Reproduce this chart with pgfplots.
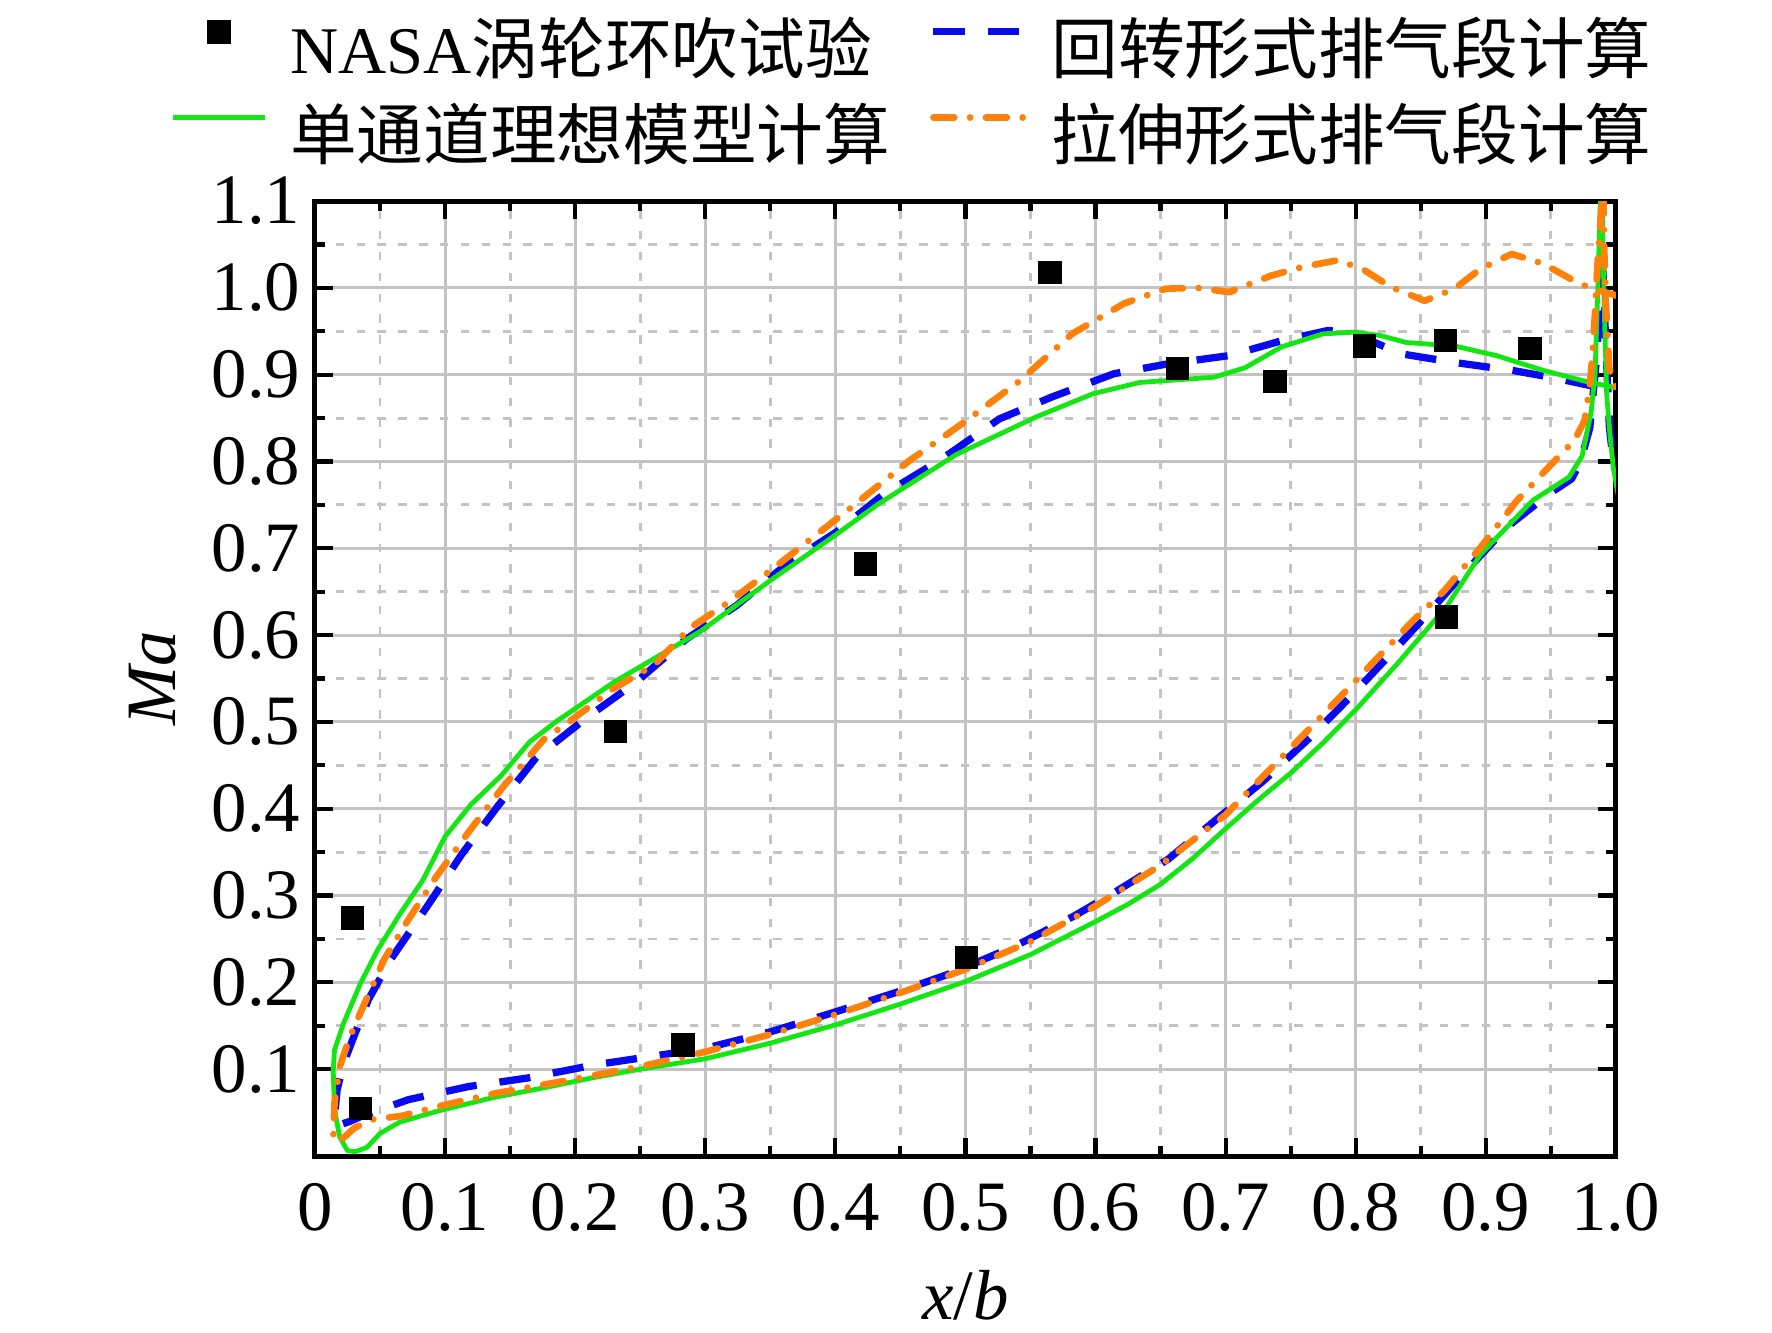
\documentclass[border=0pt]{standalone}
\usepackage{fontspec}
\setmainfont{Liberation Serif}
\newfontfamily\cjk{Noto Sans CJK SC}
\usepackage{pgfplots}
\pgfplotsset{compat=1.18}
\definecolor{cgreen}{RGB}{20,230,20}
\definecolor{cblue}{RGB}{10,10,240}
\definecolor{corange}{RGB}{255,128,10}
\definecolor{cgrid}{RGB}{195,195,195}
\begin{document}
\begin{tikzpicture}
\begin{axis}[
  width=312.2pt, height=229.2pt, scale only axis,
  xmin=0, xmax=1, ymin=0, ymax=1.1,
  xtick={0,0.1,0.2,0.3,0.4,0.5,0.6,0.7,0.8,0.9,1.0},
  xticklabels={0,0.1,0.2,0.3,0.4,0.5,0.6,0.7,0.8,0.9,1.0},
  ytick={0.1,0.2,0.3,0.4,0.5,0.6,0.7,0.8,0.9,1.0,1.1},
  yticklabels={0.1,0.2,0.3,0.4,0.5,0.6,0.7,0.8,0.9,1.0,1.1},
  minor x tick num=1, minor y tick num=1,
  grid=both,
  major grid style={cgrid, line width=0.7pt},
  minor grid style={cgrid, line width=0.7pt, dash pattern=on 2pt off 3pt},
  tick align=inside,
  major tick length=4.3pt, minor tick length=2.4pt,
  every tick/.style={black, line width=1pt},
  axis line style={black, line width=1.2pt},
  tick label style={font=\fontsize{17}{20}\selectfont},
  x tick label style={yshift=-3pt},
  label style={font=\fontsize{17}{20}\selectfont},
  xlabel={\textit{x}/\textit{b}},
  ylabel={\textit{Ma}},
  x label style={at={(axis description cs:0.5,0)}, anchor=center, yshift=-33.4pt},
  y label style={at={(axis description cs:0,0.5)}, anchor=center, yshift=38.9pt},
  legend columns=2,
  legend cell align=left,
  legend style={at={(axis description cs:0,1)}, anchor=north west,
    xshift=-34.8pt, yshift=43.4pt, draw=none, fill=none, inner sep=0pt,
    row sep=4.6pt,
    nodes={inner sep=0pt, text height=12pt, text depth=4pt, font=\fontsize{16}{19}\selectfont},
    /tikz/every odd column/.append style={column sep=5.5pt},
    /tikz/every even column/.append style={column sep=9.5pt}},
  legend image code/.code={\draw[mark repeat=2,mark phase=2,#1] plot coordinates {(0pt,6pt) (11pt,6pt) (22pt,6pt)};},
]
\coordinate (SW) at (rel axis cs:0,0);

\addplot[only marks, mark=square*, mark size=2.6pt, black] coordinates {
(0.029,0.274) (0.035,0.055) (0.231,0.489) (0.283,0.128) (0.423,0.682)
(0.501,0.229) (0.565,1.018) (0.663,0.907) (0.738,0.892) (0.807,0.933)
(0.869,0.939) (0.870,0.621) (0.934,0.930)
};
\addlegendentry{NASA{\cjk 涡轮环吹试验}}

\addplot[cblue, line width=1.75pt, dash pattern=on 7.5pt off 5.5pt, line join=round] coordinates {
(0.985,0.886) (0.950,0.897) (0.920,0.905) (0.876,0.914) (0.835,0.924) (0.799,0.947)
(0.779,0.951) (0.743,0.939) (0.703,0.922) (0.654,0.912) (0.614,0.901) (0.566,0.874)
(0.526,0.849) (0.481,0.802) (0.437,0.762) (0.401,0.719) (0.362,0.681) (0.324,0.634)
(0.285,0.595) (0.247,0.546) (0.209,0.505) (0.170,0.459) (0.140,0.402) (0.113,0.348)
(0.086,0.287) (0.058,0.226) (0.041,0.180) (0.030,0.138) (0.022,0.107) (0.017,0.076)
(0.015,0.045) (0.017,0.035) (0.027,0.040) (0.036,0.046) (0.072,0.065) (0.118,0.080)
(0.164,0.090) (0.215,0.105) (0.300,0.124) (0.350,0.143) (0.400,0.166) (0.450,0.190)
(0.488,0.210) (0.537,0.241) (0.583,0.276) (0.614,0.303) (0.656,0.342) (0.694,0.389)
(0.729,0.432) (0.767,0.485) (0.798,0.532) (0.828,0.580) (0.855,0.624) (0.880,0.666)
(0.916,0.724) (0.948,0.762) (0.966,0.780) (0.973,0.800) (0.980,0.839) (0.983,0.885)
(0.985,0.916) (0.987,0.962) (0.989,1.015) (0.990,1.020) (0.991,0.990) (0.992,0.943)
(0.994,0.878) (0.995,0.840) (0.998,0.800) (1.002,0.780)
};
\addlegendentry{\cjk 回转形式排气段计算}

\addplot[cgreen, line width=1.15pt, line join=round] coordinates {
(1.003,0.884) (0.980,0.891) (0.944,0.905) (0.908,0.922) (0.876,0.933) (0.839,0.937)
(0.819,0.945) (0.799,0.949) (0.775,0.947) (0.743,0.932) (0.715,0.908) (0.691,0.897)
(0.662,0.894) (0.634,0.891) (0.598,0.878) (0.554,0.851) (0.493,0.808) (0.433,0.751)
(0.398,0.713) (0.351,0.664) (0.296,0.604) (0.263,0.575) (0.230,0.546) (0.186,0.501)
(0.165,0.477) (0.143,0.438) (0.120,0.405) (0.100,0.368) (0.083,0.318) (0.065,0.278)
(0.048,0.237) (0.035,0.199) (0.022,0.153) (0.015,0.122) (0.014,0.099) (0.015,0.053)
(0.019,0.022) (0.025,0.006) (0.031,0.005) (0.040,0.010) (0.050,0.026) (0.065,0.039)
(0.095,0.052) (0.136,0.067) (0.174,0.078) (0.213,0.090) (0.250,0.100) (0.300,0.112)
(0.350,0.130) (0.400,0.151) (0.450,0.175) (0.500,0.201) (0.550,0.232) (0.600,0.270)
(0.625,0.290) (0.650,0.313) (0.675,0.343) (0.700,0.377) (0.725,0.410) (0.750,0.441)
(0.775,0.476) (0.800,0.514) (0.832,0.567) (0.870,0.633)
(0.896,0.693) (0.936,0.755) (0.964,0.782) (0.974,0.806) (0.981,0.857) (0.984,0.900)
(0.986,0.992) (0.988,1.096) (0.989,1.150) (0.990,1.050) (0.9915,0.954) (0.993,0.877)
(0.995,0.839) (0.998,0.793) (1.002,0.760)
};
\addlegendentry{\cjk 单通道理想模型计算}

\addplot[corange, line width=1.6pt, line cap=round, line join=round, dash pattern=on 5pt off 3.8pt on 0.01pt off 3.8pt] coordinates {
(1.003,0.990) (0.980,1.000) (0.968,1.008) (0.944,1.028) (0.920,1.039) (0.896,1.022)
(0.876,0.999) (0.853,0.985) (0.827,1.001) (0.807,1.020) (0.787,1.032) (0.759,1.024)
(0.735,1.014) (0.703,0.995) (0.678,1.000) (0.654,0.999) (0.622,0.982) (0.582,0.947)
(0.542,0.893) (0.497,0.843) (0.457,0.801) (0.413,0.748) (0.384,0.714) (0.349,0.673)
(0.318,0.638) (0.288,0.608) (0.261,0.566) (0.228,0.537) (0.198,0.503) (0.176,0.480)
(0.145,0.426) (0.118,0.373) (0.091,0.317) (0.070,0.268) (0.053,0.226) (0.037,0.172)
(0.027,0.138) (0.019,0.103) (0.015,0.061) (0.014,0.018) (0.022,0.021) (0.030,0.032)
(0.043,0.042) (0.066,0.046) (0.100,0.059) (0.138,0.072) (0.190,0.086) (0.250,0.103)
(0.300,0.120) (0.350,0.140) (0.400,0.163) (0.450,0.188) (0.500,0.215) (0.550,0.247)
(0.600,0.288) (0.650,0.335) (0.700,0.393) (0.767,0.496) (0.801,0.549) (0.843,0.615)
(0.868,0.651) (0.896,0.701) (0.924,0.755) (0.948,0.793) (0.968,0.824) (0.976,0.847)
(0.980,0.888) (0.982,0.922) (0.984,0.972) (0.986,1.030) (0.989,1.094) (0.990,1.150)
(0.991,1.050) (0.992,0.992) (0.994,0.934) (0.995,0.907) (0.998,0.890) (1.002,0.880)
};
\addlegendentry{\cjk 拉伸形式排气段计算}
\end{axis}
\pgfresetboundingbox
\path[use as bounding box] ([xshift=-75.6pt,yshift=-42.24pt]SW) rectangle ++(425.28pt,319.68pt);
\end{tikzpicture}
\end{document}
